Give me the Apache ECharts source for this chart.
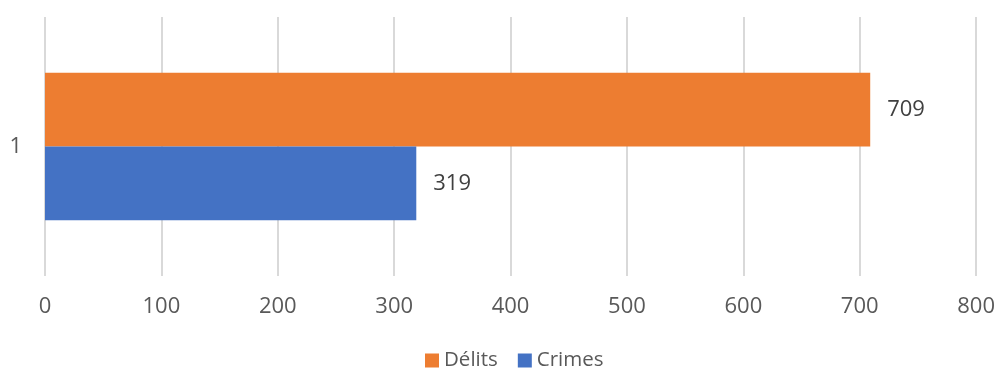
<!DOCTYPE html>
<html>
<head>
<meta charset="utf-8">
<script src="https://cdn.jsdelivr.net/npm/echarts@6/dist/echarts.min.js"></script>
<style>
  html, body { margin: 0; padding: 0; background: #fff; }
  #chart { width: 998px; height: 368px; }
</style>
</head>
<body>
<div id="chart"></div>
<script>
// Category and series values
const categories = ['1'];
const delits = [709];
const crimes = [319];
const xTicks = { min: 0, max: 800, interval: 100 };
const legendOrder = ['Délits', 'Crimes'];

const chart = echarts.init(document.getElementById('chart'), null, { renderer: 'canvas' });
const font = '"Open Sans", "Noto Sans", sans-serif';
const fs = 22;

chart.setOption({
  animation: false,
  textStyle: { fontFamily: font },
  grid: { left: 45, right: 19, top: 17, bottom: 92, containLabel: false },
  legend: {
    data: legendOrder,
    top: 350,
    left: 425,
    padding: 0,
    itemWidth: 14,
    itemHeight: 14,
    itemGap: 20,
    icon: 'rect',
    textStyle: { fontSize: 20.5, color: '#595959', fontFamily: font }
  },
  xAxis: {
    type: 'value',
    min: xTicks.min,
    max: xTicks.max,
    interval: xTicks.interval,
    axisLine: { show: false },
    axisTick: { show: false },
    axisLabel: { fontSize: fs, color: '#595959', margin: 20, fontFamily: font },
    splitLine: { show: true, lineStyle: { color: '#d9d9d9', width: 2 } }
  },
  yAxis: {
    type: 'category',
    data: categories,
    axisLine: { show: false },
    axisTick: { show: false },
    axisLabel: { fontSize: fs, color: '#595959', margin: 23, fontFamily: font },
    splitLine: { show: false }
  },
  series: [
    {
      name: 'Délits',
      type: 'bar',
      data: delits,
      barCategoryGap: '43%',
      barGap: '0%',
      itemStyle: { color: '#ED7D31' },
      label: { show: true, position: 'right', distance: 17, fontSize: fs, color: '#404040', fontFamily: font }
    },
    {
      name: 'Crimes',
      type: 'bar',
      data: crimes,
      barCategoryGap: '43%',
      barGap: '0%',
      itemStyle: { color: '#4472C4' },
      label: { show: true, position: 'right', distance: 17, fontSize: fs, color: '#404040', fontFamily: font }
    }
  ]
});
</script>
</body>
</html>
